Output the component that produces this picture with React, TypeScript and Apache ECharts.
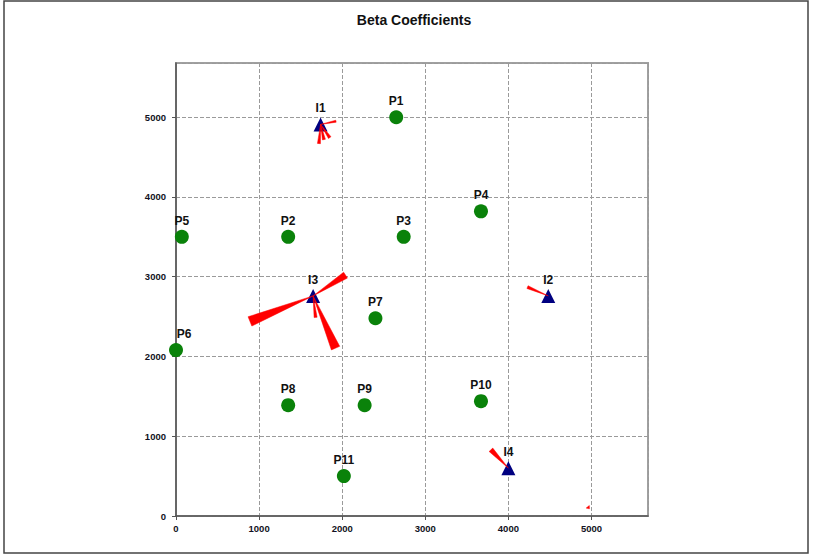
import React, { useEffect, useRef } from "react";
import * as echarts from "echarts";

const pNames = ["P1", "P2", "P3", "P4", "P5", "P6", "P7", "P8", "P9", "P10", "P11"];
const pX = [2650, 1350, 2740, 3670, 70, 0, 2400, 1350, 2270, 3670, 2020];
const pY = [5000, 3500, 3500, 3820, 3500, 2080, 2480, 1390, 1390, 1440, 500];

const iNames = ["I1", "I2", "I3", "I4"];
const iX = [1740, 4480, 1650, 4000];
const iY = [4910, 2760, 2760, 600];

// wedges (beta arrows): origin, end, end width
const wedgeX0 = [1740, 1740, 1740, 1740, 4480, 1650, 1650, 1650, 1650, 4000, 4975];
const wedgeY0 = [4910, 4910, 4910, 4910, 2760, 2760, 2760, 2760, 2760, 600, 90];
const wedgeX1 = [1925, 1720, 1780, 1850, 4230, 890, 2040, 1920, 1680, 3790, 4955];
const wedgeY1 = [4950, 4670, 4720, 4745, 2870, 2440, 3020, 2105, 2490, 830, 115];
const wedgeW = [2, 3, 3, 3, 3, 10, 7, 9, 3, 5, 4];

const xTicks = [0, 1000, 2000, 3000, 4000, 5000];
const axisMax = 5680;

export default function App() {
  const ref = useRef<HTMLDivElement>(null);
  useEffect(() => {
    if (!ref.current) return;
    const chart = echarts.init(ref.current, null, { renderer: "svg" });
    const labelStyle = {
      show: true,
      position: "top" as const,
      distance: 3,
      formatter: (p: any) => p.name,
      fontFamily: "Liberation Sans, Arial, sans-serif",
      fontWeight: "bold" as const,
      fontSize: 12,
      color: "#111111",
      opacity: 1,
    };
    const axisLabel = {
      fontFamily: "Liberation Sans, Arial, sans-serif",
      fontWeight: "bold" as const,
      fontSize: 9.5,
      color: "#111122",
      showMaxLabel: false,
      formatter: (v: number) => (xTicks.includes(v) ? String(v) : ""),
    };
    const splitLine = { show: true, lineStyle: { type: "dashed" as const, color: "#9a9a9a", width: 1 } };
    chart.setOption({
      animation: false,
      backgroundColor: "#ffffff",
      graphic: [
        {
          type: "rect",
          shape: { x: 4, y: 1, width: 804, height: 552 },
          style: { fill: "none", stroke: "#444", lineWidth: 1.5 },
          z: -1,
        },
        {
          type: "text",
          x: 414,
          y: 20,
          style: {
            text: "Beta Coefficients",
            fontFamily: "Liberation Sans, Arial, sans-serif",
            fontWeight: "bold",
            fontSize: 14,
            fill: "#111",
            textAlign: "center",
            textVerticalAlign: "middle",
          },
        },
      ],
      grid: {
        left: 176,
        top: 63,
        width: 472,
        height: 453,
        show: true,
        borderColor: "#a0a0a0",
        borderWidth: 2,
        backgroundColor: "#ffffff",
      },
      xAxis: {
        type: "value",
        min: 0,
        max: axisMax,
        interval: 1000,
        axisLine: { show: true, onZero: false, lineStyle: { color: "#555", width: 1.5 } },
        axisTick: { show: true, length: 4, lineStyle: { color: "#555" } },
        axisLabel: { ...axisLabel, margin: 7 },
        splitLine,
      },
      yAxis: {
        type: "value",
        min: 0,
        max: axisMax,
        interval: 1000,
        axisLine: { show: true, onZero: false, lineStyle: { color: "#555", width: 1.5 } },
        axisTick: { show: true, length: 4, lineStyle: { color: "#555" } },
        axisLabel: { ...axisLabel, margin: 10 },
        splitLine,
      },
      series: [
        {
          type: "scatter",
          symbol: "circle",
          symbolSize: 14,
          itemStyle: { color: "#0a820a", opacity: 1 },
          label: labelStyle,
          data: pNames.map((n, i) => ({
            name: n,
            value: [pX[i], pY[i]],
            label: n === "P6" ? { offset: [8, 0] } : undefined,
          })),
          z: 3,
        },
        {
          type: "scatter",
          symbol: "triangle",
          symbolSize: 14,
          itemStyle: { color: "#000080", opacity: 1 },
          label: labelStyle,
          data: iNames.map((n, i) => ({ name: n, value: [iX[i], iY[i]] })),
          z: 3,
        },
        {
          type: "custom",
          z: 4,
          encode: { x: [0, 2], y: [1, 3] },
          data: wedgeX0.map((x0, i) => [x0, wedgeY0[i], wedgeX1[i], wedgeY1[i], wedgeW[i]]),
          renderItem: (params: any, api: any) => {
            const p0 = api.coord([api.value(0), api.value(1)]);
            const p1 = api.coord([api.value(2), api.value(3)]);
            const w = api.value(4);
            const dx = p1[0] - p0[0];
            const dy = p1[1] - p0[1];
            const len = Math.hypot(dx, dy) || 1;
            const nx = (-dy / len) * (w / 2);
            const ny = (dx / len) * (w / 2);
            return {
              type: "polygon",
              shape: {
                points: [
                  [p0[0], p0[1]],
                  [p1[0] + nx, p1[1] + ny],
                  [p1[0] - nx, p1[1] - ny],
                ],
              },
              style: { fill: "#ff0000", stroke: "#ff0000", lineWidth: 0.5 },
            };
          },
        },
      ],
    });
    return () => chart.dispose();
  }, []);
  return (
    <div
      ref={ref}
      style={{ position: "fixed", left: 0, top: 0, width: 817, height: 556 }}
    />
  );
}
